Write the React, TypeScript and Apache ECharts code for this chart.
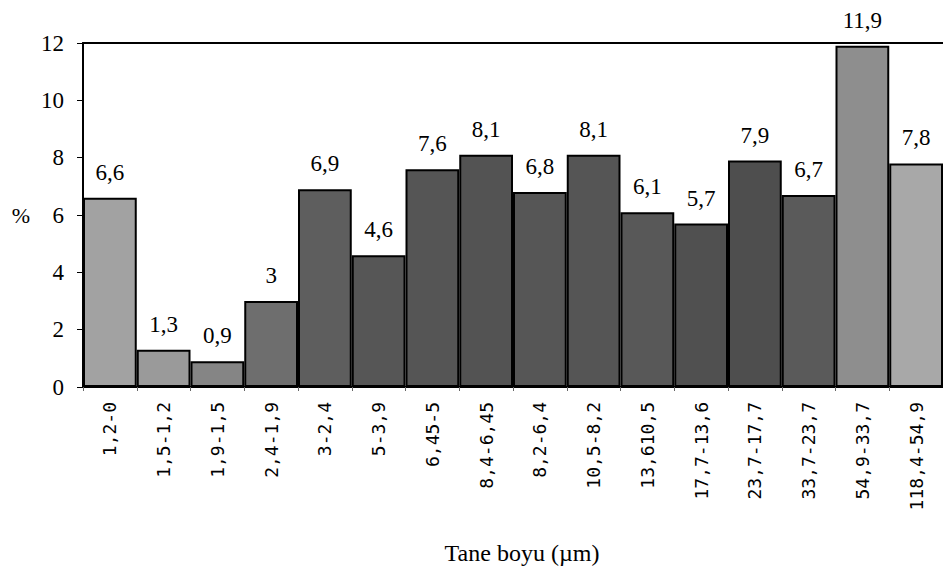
import React, { useEffect, useRef } from "react";
import * as echarts from "echarts";

const categories = [
  "1,2-0", "1,5-1,2", "1,9-1,5", "2,4-1,9", "3-2,4", "5-3,9", "6,45-5", "8,4-6,45",
  "8,2-6,4", "10,5-8,2", "13,610,5", "17,7-13,6", "23,7-17,7", "33,7-23,7", "54,9-33,7", "118,4-54,9",
];
const values = [6.6, 1.3, 0.9, 3, 6.9, 4.6, 7.6, 8.1, 6.8, 8.1, 6.1, 5.7, 7.9, 6.7, 11.9, 7.8];
const yTicks = [0, 2, 4, 6, 8, 10, 12];
const barColors = [
  "#a2a2a2", "#9a9a9a", "#858585", "#6e6e6e", "#5e5e5e", "#565656", "#555555", "#535353",
  "#565656", "#555555", "#585858", "#505050", "#4e4e4e", "#5a5a5a", "#8e8e8e", "#a8a8a8",
];

const serif = "Times New Roman, Liberation Serif, DejaVu Serif, serif";

export default function App() {
  const ref = useRef<HTMLDivElement>(null);
  useEffect(() => {
    document.body.style.margin = "0";
    const chart = echarts.init(ref.current!, null, { renderer: "svg" });
    chart.setOption({
      animation: false,
      backgroundColor: "#ffffff",
      textStyle: { fontFamily: serif },
      grid: { left: 83, right: 0, top: 43, bottom: 172, containLabel: false },
      xAxis: [
        {
          type: "category",
          data: categories,
          position: "bottom",
          axisLine: { show: true, lineStyle: { color: "#000", width: 2 } },
          axisTick: { show: true, length: 4, lineStyle: { color: "#666", width: 1 } },
          axisLabel: {
            rotate: 90,
            interval: 0,
            margin: 15,
            fontFamily: "DejaVu Sans Mono, monospace",
            fontSize: 18,
            color: "#000",
          },
          name: "Tane boyu (µm)",
          nameLocation: "middle",
          nameGap: 154,
          nameTextStyle: { fontFamily: serif, fontSize: 24, color: "#000", padding: [0, 0, 0, 18] },
        },
        {
          type: "category",
          data: categories,
          position: "top",
          axisLine: { show: true, lineStyle: { color: "#000", width: 2 } },
          axisTick: { show: false },
          axisLabel: { show: false },
        },
      ],
      yAxis: {
        type: "value",
        min: yTicks[0],
        max: yTicks[yTicks.length - 1],
        interval: 2,
        splitLine: { show: false },
        axisLine: { show: true, lineStyle: { color: "#000", width: 2 } },
        axisTick: { show: true, length: 6, lineStyle: { color: "#000", width: 1 } },
        axisLabel: { fontFamily: serif, fontSize: 23, color: "#000", margin: 19 },
        name: "%",
        nameLocation: "middle",
        nameRotate: 0,
        nameGap: 53,
        nameTextStyle: { fontFamily: serif, fontSize: 22, color: "#000" },
      },
      series: [
        {
          type: "bar",
          xAxisIndex: 0,
          barCategoryGap: "0%",
          data: values.map((v, i) => ({
            value: v,
            itemStyle: { color: barColors[i] },
          })),
          itemStyle: { borderColor: "#000", borderWidth: 2 },
          label: {
            show: true,
            position: "top",
            distance: 14,
            fontFamily: serif,
            fontSize: 23,
            color: "#000",
            formatter: (p: any) => String(p.value).replace(".", ","),
          },
        },
      ],
    });
    return () => chart.dispose();
  }, []);
  return <div ref={ref} style={{ width: 943, height: 570 }} />;
}
